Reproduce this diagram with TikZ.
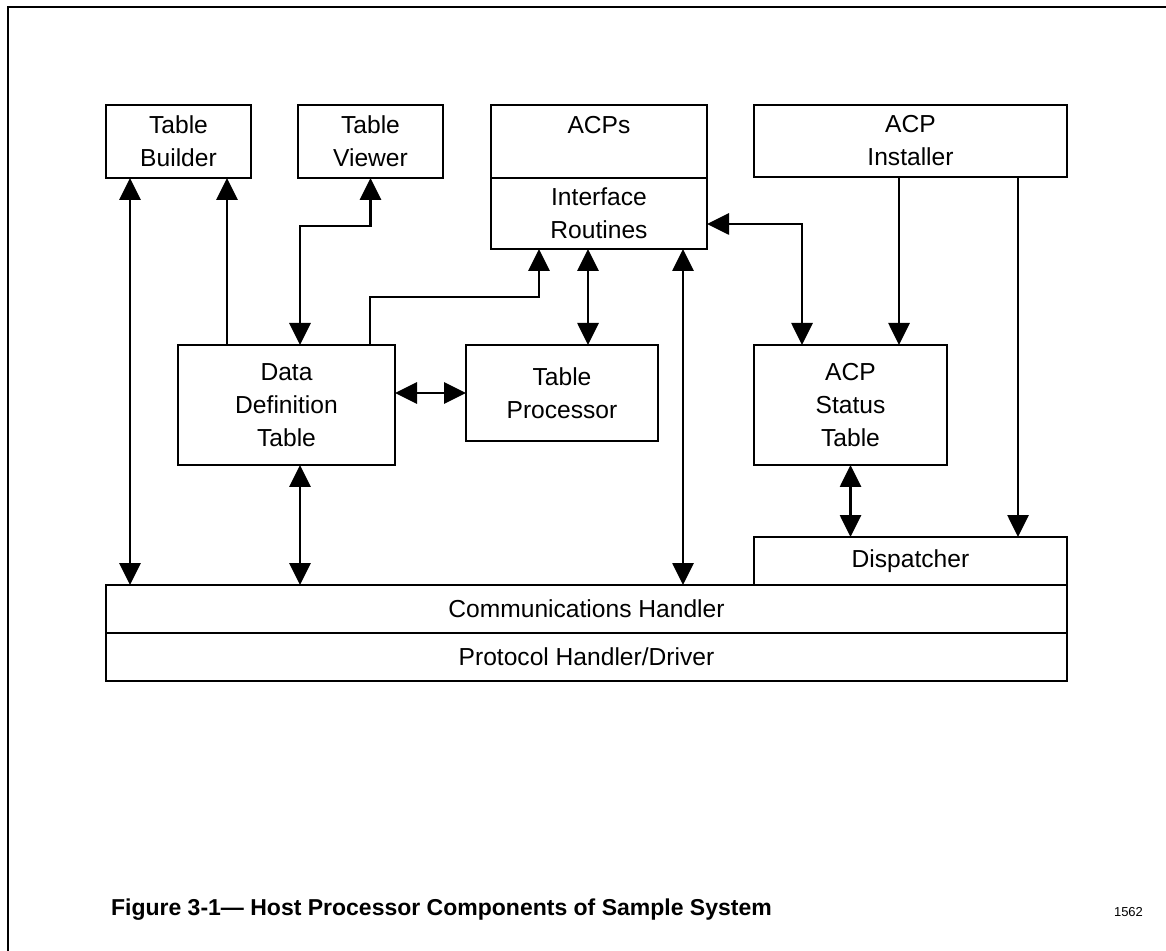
\documentclass[tikz,border=0pt]{standalone}
\usepackage{fontspec}
\setmainfont{Liberation Sans}
\usetikzlibrary{arrows.meta,positioning,calc}

\begin{document}
\begin{tikzpicture}[x=0.5pt, y=-0.5pt,
  box/.style={draw, line width=1.4pt, align=center, inner sep=0pt, outer sep=0pt, font=\fontsize{12.3}{16.5}\selectfont},
  arr/.style={-{Triangle[length=11pt, width=10.5pt]}, line width=1.4pt},
  dbl/.style={{Triangle[length=11pt, width=10.5pt]}-{Triangle[length=11pt, width=10.5pt]}, line width=1.4pt},
]
\useasboundingbox (0,0) rectangle (1166,951);
\draw[line width=1pt] (7.5,951) -- (7.5,7) -- (1166,7);

% top row
\node[box, minimum width=72.5pt, minimum height=36.5pt] (tb) at (178.5,141.5) {Table\\Builder};
\node[box, minimum width=72.5pt, minimum height=36.5pt] (tv) at (370.5,141.5) {Table\\Viewer};
\node[box, minimum width=108pt, minimum height=36.5pt] (acp) at (599,141.5) {ACPs\\\mbox{}};
\node[box, minimum width=108pt, minimum height=35.5pt, below=0pt of acp] (ir) {Interface\\Routines};
\node[box, minimum width=156.5pt, minimum height=36pt] (inst) at (910.5,141) {ACP\\Installer};

% middle row
\node[box, minimum width=108.5pt, minimum height=60pt] (ddt) at (286.5,405) {Data\\Definition\\Table};
\node[box, minimum width=96pt, minimum height=48pt] (tp) at (562,393) {Table\\Processor};
\node[box, minimum width=96.5pt, minimum height=60pt] (ast) at (850.5,405) {ACP\\Status\\Table};

% bottom bars
\node[box, minimum width=156.5pt, minimum height=24pt] (disp) at (910.5,561) {Dispatcher};
\node[box, minimum width=480.5pt, minimum height=24pt] (comm) at (586.5,609) {Communications Handler};
\node[box, minimum width=480.5pt, minimum height=24pt, below=0pt of comm] (proto) {Protocol Handler/Driver};

% columns of the connectors
\coordinate (c130) at (130,0);
\coordinate (c227) at (227,0);
\coordinate (c300) at (300,0);
\coordinate (c370) at (370,0);
\coordinate (c539) at (539,0);
\coordinate (c588) at (588,0);
\coordinate (c683) at (683,0);
\coordinate (k) at (802,224);
\coordinate (c899) at (899,0);
\coordinate (c1018) at (1018,0);

\draw[dbl] (c130 |- tb.south) -- (c130 |- comm.north);
\draw[arr] (c227 |- ddt.north) -- (c227 |- tb.south);
\draw[dbl] (tv.south) -- ++(0,48) -| (c300 |- ddt.north);
\draw[arr] (c370 |- ddt.north) -- ++(0,-48) -| (c539 |- ir.south);
\draw[dbl] (c588 |- ir.south) -- (c588 |- tp.north);
\draw[dbl] (c683 |- comm.north) -- (c683 |- ir.south);
\draw[dbl] (ir.east |- k) -| (k |- ast.north);
\draw[arr] (c899 |- inst.south) -- (c899 |- ast.north);
\draw[arr] (c1018 |- inst.south) -- (c1018 |- disp.north);
\draw[dbl] (ast.south) -- (ast.south |- disp.north);
\draw[dbl] (c300 |- ddt.south) -- (c300 |- comm.north);
\draw[dbl] (ddt.east |- tp.west) -- (tp.west);

% caption
\node[anchor=west, font=\bfseries\fontsize{11.5}{14}\selectfont] (cap) at (104,910) {Figure 3-1— Host Processor Components of Sample System};
\node[anchor=east, font=\fontsize{6.5}{8}\selectfont] (num) at (1150,912) {1562};
\end{tikzpicture}
\end{document}
